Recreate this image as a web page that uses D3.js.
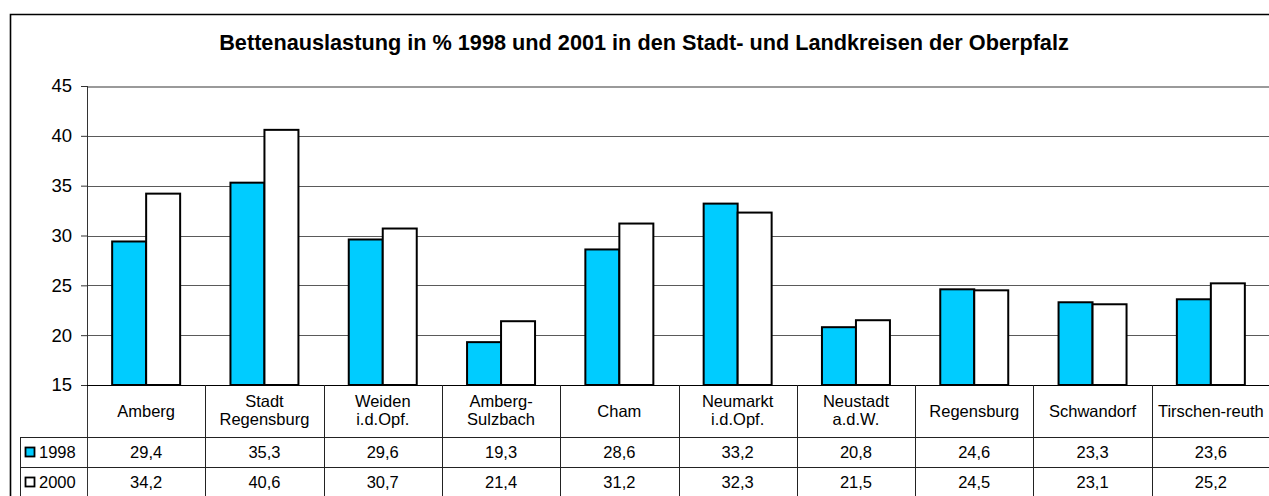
<!DOCTYPE html>
<html lang="de">
<head>
    <meta charset="utf-8">
    <script type="text/javascript" src="https://cdn.jsdelivr.net/npm/d3@7"></script>
    <style>
        body {
            margin: 0;
            background: white;
        }

        text {
            font-family: Arial, 'Liberation Sans', sans-serif;
            fill: black;
        }

        .title {
            font-size: 21.7px;
            font-weight: bold;
        }

        .y text {
            font-size: 18.5px;
        }

        .y path {
            display: none;
        }

        .grid line {
            stroke: #5a5a5a;
            stroke-width: 1;
            shape-rendering: crispEdges;
        }

        .cell {
            font-size: 16.5px;
        }

        .tbl {
            stroke: #222;
            stroke-width: 1;
            shape-rendering: crispEdges;
        }

        .bar {
            stroke: black;
            stroke-width: 2;
        }
    </style>
</head>
<body>
<div id="chart"></div>

<script>

    // categories (Stadt- und Landkreise)
    var kreise = ["Amberg", "Stadt Regensburg", "Weiden i.d.Opf.", "Amberg- Sulzbach", "Cham",
        "Neumarkt i.d.Opf.", "Neustadt a.d.W.", "Regensburg", "Schwandorf", "Tirschen-reuth"];
    // header lines in the table
    var kreisLabels = [["Amberg"], ["Stadt", "Regensburg"], ["Weiden", "i.d.Opf."], ["Amberg-", "Sulzbach"],
        ["Cham"], ["Neumarkt", "i.d.Opf."], ["Neustadt", "a.d.W."], ["Regensburg"], ["Schwandorf"], ["Tirschen-reuth"]];

    var jahre = ["1998", "2000"];
    var werte1998 = [29.4, 35.3, 29.6, 19.3, 28.6, 33.2, 20.8, 24.6, 23.3, 23.6];
    var werte2000 = [34.2, 40.6, 30.7, 21.4, 31.2, 32.3, 21.5, 24.5, 23.1, 25.2];
    var yTicks = [15, 20, 25, 30, 35, 40, 45];
    var farben = {"1998": "#00ccff", "2000": "#ffffff"};

    var width = 1269, height = 496;
    var margin = {top: 86, left: 87, bottom: 385, right: 1270};

    var svg = d3.select("#chart").append("svg")
        .attr("width", width)
        .attr("height", height);

    // outer frame
    svg.append("path")
        .attr("d", "M10.5,500 V14.5 H1280")
        .attr("fill", "none")
        .attr("stroke", "black")
        .attr("stroke-width", 1.6);

    svg.append("text")
        .attr("class", "title")
        .attr("x", 644)
        .attr("y", 50)
        .attr("text-anchor", "middle")
        .text("Bettenauslastung in % 1998 und 2001 in den Stadt- und Landkreisen der Oberpfalz");

    var x = d3.scaleBand()
        .domain(kreise)
        .range([margin.left, margin.right])
        .padding(0);

    var xInner = d3.scaleBand()
        .domain(jahre)
        .range([0, x.bandwidth()])
        .paddingInner(0)
        .paddingOuter(0.74);

    var y = d3.scaleLinear()
        .domain([15, 45])
        .range([margin.bottom, margin.top]);

    // gridlines
    svg.append("g")
        .attr("class", "grid")
        .selectAll("line")
        .data(yTicks.slice(1))
        .enter().append("line")
        .attr("x1", margin.left)
        .attr("x2", width + 5)
        .attr("y1", function (d) { return Math.round(y(d)) + 0.5; })
        .attr("y2", function (d) { return Math.round(y(d)) + 0.5; })
        .style("stroke", function (d) { return d === 45 ? "#9a9a9a" : null; })
        .style("stroke-width", function (d) { return d === 45 ? 2 : null; });

    // y axis
    var yAxis = svg.append("g")
        .attr("class", "y")
        .attr("transform", "translate(" + margin.left + ",0)")
        .call(d3.axisLeft(y).tickValues(yTicks).tickSize(6).tickPadding(9));
    yAxis.selectAll("line").attr("stroke", "#333");

    svg.append("line")
        .attr("class", "tbl")
        .attr("x1", margin.left + 0.5)
        .attr("x2", margin.left + 0.5)
        .attr("y1", margin.top)
        .attr("y2", height + 5)
        .style("stroke", "#333");

    // bars
    var daten = kreise.map(function (k, i) {
        return {kreis: k, werte: [{jahr: "1998", v: werte1998[i]}, {jahr: "2000", v: werte2000[i]}]};
    });

    svg.selectAll(".gruppe")
        .data(daten)
        .enter().append("g")
        .attr("class", "gruppe")
        .attr("transform", function (d) { return "translate(" + x(d.kreis) + ",0)"; })
        .selectAll("rect")
        .data(function (d) { return d.werte; })
        .enter().append("rect")
        .attr("class", "bar")
        .attr("x", function (d) { return xInner(d.jahr); })
        .attr("y", function (d) { return y(d.v); })
        .attr("width", xInner.bandwidth())
        .attr("height", function (d) { return y(15) - y(d.v); })
        .attr("fill", function (d) { return farben[d.jahr]; });

    // data table
    var rowY = [385, 437, 467, 497];
    var tabLeft = 20;

    svg.append("line")
        .attr("class", "tbl")
        .attr("x1", margin.left)
        .attr("x2", width + 5)
        .attr("y1", rowY[0] + 0.5)
        .attr("y2", rowY[0] + 0.5)
        .style("stroke", "black");

    rowY.slice(1).forEach(function (ry) {
        svg.append("line")
            .attr("class", "tbl")
            .attr("x1", tabLeft)
            .attr("x2", width + 5)
            .attr("y1", ry + 0.5)
            .attr("y2", ry + 0.5);
    });

    svg.append("line")
        .attr("class", "tbl")
        .attr("x1", tabLeft + 0.5)
        .attr("x2", tabLeft + 0.5)
        .attr("y1", rowY[1])
        .attr("y2", height + 5);

    svg.selectAll(".vline")
        .data(kreise.slice(1))
        .enter().append("line")
        .attr("class", "tbl vline")
        .attr("x1", function (d) { return Math.round(x(d)) + 0.5; })
        .attr("x2", function (d) { return Math.round(x(d)) + 0.5; })
        .attr("y1", rowY[0])
        .attr("y2", height + 5);

    // header labels
    svg.selectAll(".kopf")
        .data(kreise)
        .enter().append("text")
        .attr("class", "cell kopf")
        .attr("text-anchor", "middle")
        .attr("x", function (d) { return x(d) + x.bandwidth() / 2; })
        .attr("y", function (d, i) { return kreisLabels[i].length > 1 ? 406.5 : 417; })
        .each(function (d, i) {
            var t = d3.select(this);
            var cx = x(d) + x.bandwidth() / 2;
            kreisLabels[i].forEach(function (zeile, j) {
                t.append("tspan")
                    .attr("x", cx)
                    .attr("dy", j === 0 ? 0 : 18.5)
                    .text(zeile);
            });
        });

    // values rows
    [werte1998, werte2000].forEach(function (reihe, r) {
        var cy = (rowY[r + 1] + rowY[r + 2]) / 2;
        svg.selectAll(".wert" + r)
            .data(reihe)
            .enter().append("text")
            .attr("class", "cell wert" + r)
            .attr("text-anchor", "middle")
            .attr("x", function (d, i) { return x(kreise[i]) + x.bandwidth() / 2; })
            .attr("y", cy + 6)
            .text(function (d) { return d.toFixed(1).replace(".", ","); });

        svg.append("rect")
            .attr("x", 25.5)
            .attr("y", cy - 4.5)
            .attr("width", 9)
            .attr("height", 9)
            .attr("fill", farben[jahre[r]])
            .attr("stroke", "black")
            .attr("stroke-width", 1.8);

        svg.append("text")
            .attr("class", "cell")
            .attr("x", 39)
            .attr("y", cy + 6)
            .text(jahre[r]);
    });

</script>
</body>
</html>
